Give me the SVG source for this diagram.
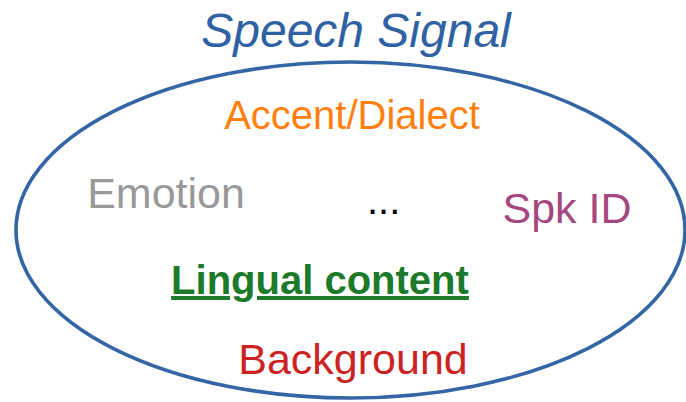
<svg xmlns="http://www.w3.org/2000/svg" width="686" height="402" viewBox="0 0 686 402">
<style>
text{font-family:"Liberation Sans",Arial,sans-serif}
.t{fill:#2f62a2;font-style:italic;font-size:48px}
.a{font-size:40px}
.b{font-size:43px}
</style>
<rect width="686" height="402" fill="#fff"/>
<g id="title"><text class="t" x="356" y="47" text-anchor="middle">Speech Signal</text></g>
<g id="signal"><ellipse cx="350.5" cy="230" rx="334.5" ry="168" fill="none" stroke="#3465a4" stroke-width="3.6"/></g>
<g id="accent"><text class="a" x="352" y="129" text-anchor="middle" fill="#ff7f0f">Accent/Dialect</text></g>
<g id="emotion"><text class="b" x="166" y="208" text-anchor="middle" fill="#999999">Emotion</text></g>
<g id="dots"><text class="a" x="367" y="214" fill="#000">...</text></g>
<g id="spk"><text class="b" x="567" y="223" text-anchor="middle" fill="#a5487f">Spk ID</text></g>
<g id="lingual"><text class="a" x="320" y="294" text-anchor="middle" fill="#1c7a2a" font-weight="bold" text-decoration="underline">Lingual content</text></g>
<g id="background"><text class="b" x="353" y="374" text-anchor="middle" fill="#cc2222">Background</text></g>
</svg>
